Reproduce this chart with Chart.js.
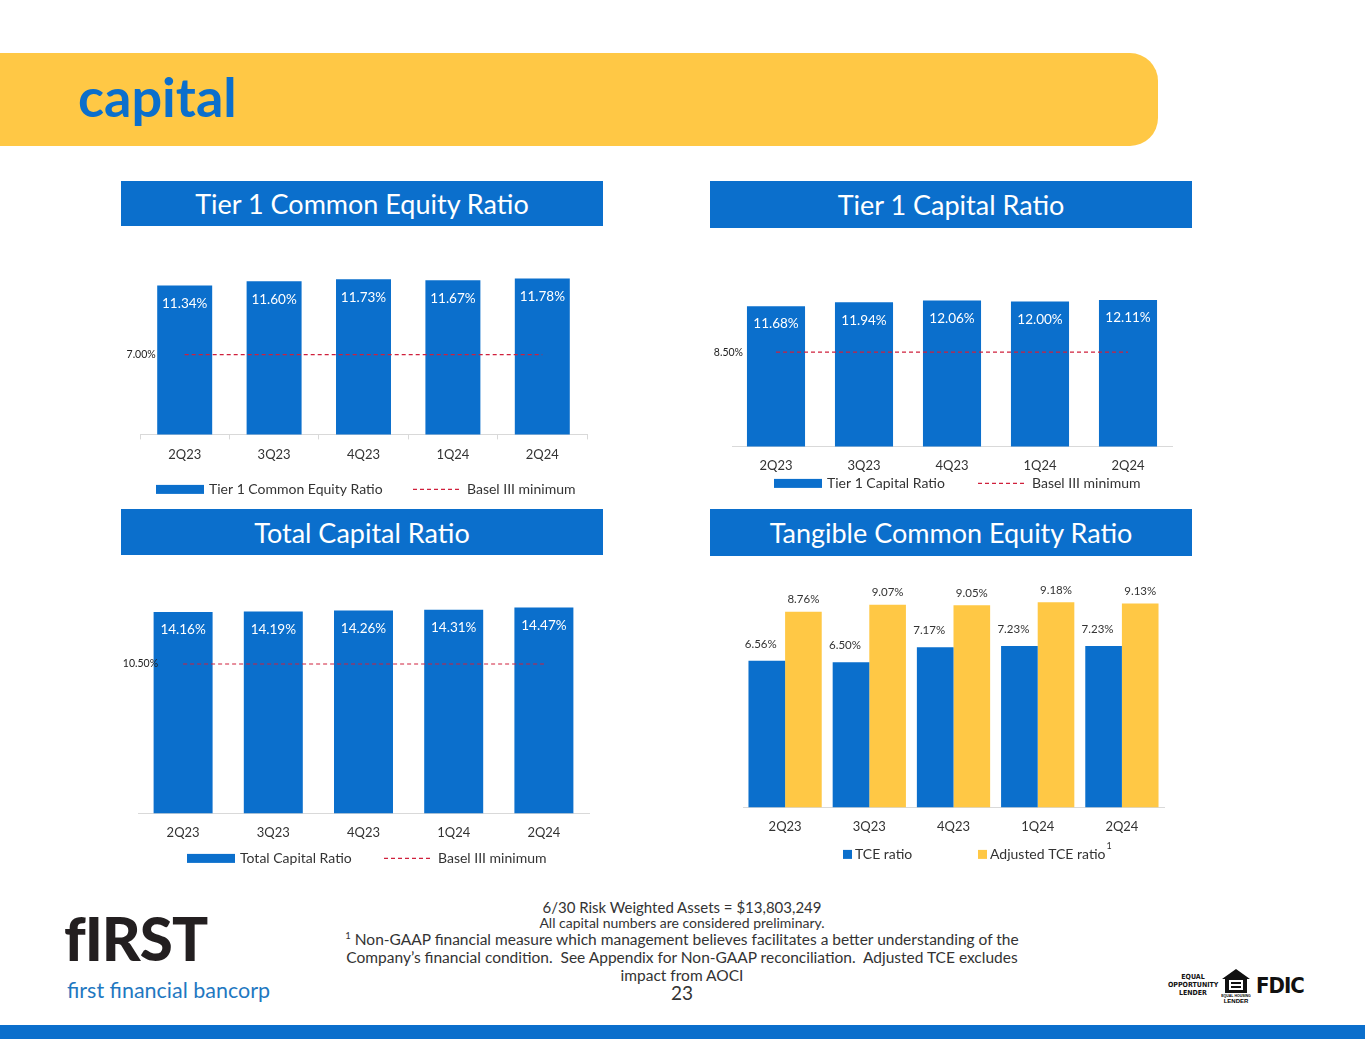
<!DOCTYPE html>
<html>
<head>
<meta charset="utf-8">
<title>capital</title>
<script src="https://cdn.jsdelivr.net/npm/chart.js@4.4.1/dist/chart.umd.min.js"></script>
<style>
  html, body { margin: 0; padding: 0; background: #fff; }
  body { width: 1365px; height: 1055px; position: relative; overflow: hidden; font-family: Lato, 'Open Sans', sans-serif; }
  .band { position: absolute; left: 0; top: 53px; width: 1158px; height: 93px; background: #FFC845; border-radius: 0 28px 28px 0; }
  .pageTitle { position: absolute; left: 78px; top: 70px; font: bold 54px/54px Lato, sans-serif; color: #0B6FCC; }
  .secTitle { position: absolute; width: 482px; background: #0B6FCC; color: #fff; font: 27px Lato, sans-serif;
              display: flex; align-items: center; justify-content: center; }
  .chartBox { position: absolute; }
  .notes { position: absolute; left: 282px; top: 900px; width: 800px; text-align: center; color: #333; }
  .notes div { white-space: nowrap; }
  .logo1 { position: absolute; left: 64px; top: 903px; font: 900 60px/70px Lato, sans-serif; color: #231F20; letter-spacing: -1px; }
  .logo2 { position: absolute; left: 67px; top: 976px; font: 21.5px/28px Lato, sans-serif; color: #1F78C1; }
  .eol { position: absolute; left: 1168px; top: 973px; width: 50px; text-align: center; font: bold 7px/8px 'Liberation Sans Narrow', 'DejaVu Sans Condensed', sans-serif; color: #111; }
  .fdic { position: absolute; left: 1256px; top: 972px; font: bold 22px/28px 'Liberation Sans Narrow', 'DejaVu Sans Condensed', sans-serif; color: #111; letter-spacing: -1px; }
  .ehl { position: absolute; left: 1221px; top: 968px; }
  .bottomBand { position: absolute; left: 0; top: 1025px; width: 1365px; height: 14px; background: #0B6FCC; }
</style>
</head>
<body>
<div class="band"></div>
<div class="pageTitle">capital</div>

<div class="secTitle" style="left:121px; top:181px; height:45px;">Tier 1 Common Equity Ratio</div>
<div class="secTitle" style="left:710px; top:181px; height:47px;">Tier 1 Capital Ratio</div>
<div class="secTitle" style="left:121px; top:509px; height:46px;">Total Capital Ratio</div>
<div class="secTitle" style="left:710px; top:509px; height:47px;">Tangible Common Equity Ratio</div>

<div class="chartBox" style="left:100px; top:249px;"><canvas id="cet1" width="527" height="264"></canvas></div>
<div class="chartBox" style="left:700px; top:277px;"><canvas id="tier1" width="504" height="237"></canvas></div>
<div class="chartBox" style="left:98px; top:590px;"><canvas id="total" width="531" height="301"></canvas></div>
<div class="chartBox" style="left:711px; top:574px;"><canvas id="tce" width="485" height="311"></canvas></div>

<div class="notes">
  <div style="font-size:15px; line-height:15px;">6/30 Risk Weighted Assets = $13,803,249</div>
  <div style="font-size:14px; line-height:15px;">All capital numbers are considered preliminary.</div>
  <div style="font-size:15.5px; line-height:18px;"><sup style="font-size:9.5px; line-height:0;">1</sup> Non-GAAP financial measure which management believes facilitates a better understanding of the</div>
  <div style="font-size:15.5px; line-height:18px;">Company’s financial condition.&nbsp; See Appendix for Non-GAAP reconciliation.&nbsp; Adjusted TCE excludes</div>
  <div style="font-size:15.5px; line-height:18px;">impact from AOCI</div>
  <div style="font-size:19px; line-height:18px;">23</div>
</div>

<div class="logo1">fIRST</div>
<div class="logo2">first financial bancorp</div>

<div class="eol">EQUAL<br>OPPORTUNITY<br>LENDER</div>
<svg class="ehl" width="30" height="36" viewBox="0 0 30 36">
  <path d="M15 1 L29 11 L26 11 L26 25 L4 25 L4 11 L1 11 Z" fill="#111"/>
  <rect x="8" y="12" width="14" height="10" fill="#fff"/>
  <rect x="10" y="14" width="10" height="2" fill="#111"/>
  <rect x="10" y="18" width="10" height="2" fill="#111"/>
  <text x="15" y="29" font-size="3.5" text-anchor="middle" font-family="Liberation Sans Narrow, sans-serif" font-weight="bold">EQUAL HOUSING</text>
  <text x="15" y="35" font-size="6" text-anchor="middle" font-family="Liberation Sans Narrow, sans-serif" font-weight="bold">LENDER</text>
</svg>
<div class="fdic">FDIC</div>

<div class="bottomBand"></div>

<script>
// quarters shown on every chart
const quarters = ['2Q23', '3Q23', '4Q23', '1Q24', '2Q24'];

// ratios in percent
const tier1CommonEquity = [11.34, 11.60, 11.73, 11.67, 11.78];
const tier1CommonMinimum = [7.00, 7.00, 7.00, 7.00, 7.00];

const tier1Capital = [11.68, 11.94, 12.06, 12.00, 12.11];
const tier1CapitalMinimum = [8.50, 8.50, 8.50, 8.50, 8.50];

const totalCapital = [14.16, 14.19, 14.26, 14.31, 14.47];
const totalCapitalMinimum = [10.50, 10.50, 10.50, 10.50, 10.50];

const tceRatio = [6.56, 6.50, 7.17, 7.23, 7.23];
const adjustedTceRatio = [8.76, 9.07, 9.05, 9.18, 9.13];

const BLUE = '#0B6FCC';
const YELLOW = '#FFC845';
const RED = '#D0203C';

Chart.defaults.font.family = 'Lato';
Chart.defaults.color = '#333';

// value labels on the bars + the label at the left end of the minimum line
const valueLabels = {
  id: 'valueLabels',
  afterDatasetsDraw(chart, args, opts) {
    const ctx = chart.ctx;
    ctx.save();
    ctx.textBaseline = 'middle';
    chart.data.datasets.forEach((ds, i) => {
      const meta = chart.getDatasetMeta(i);
      if (ds.type === 'line') {
        const p = meta.data[0];
        ctx.font = '10.5px Lato';
        ctx.fillStyle = '#222';
        ctx.textAlign = 'right';
        ctx.fillText(ds.data[0].toFixed(2) + '%', p.x - opts.lineGap, p.y);
        return;
      }
      const off = opts.offsets[i];
      ctx.font = opts.font;
      ctx.fillStyle = opts.color;
      ctx.textAlign = 'center';
      meta.data.forEach((bar, j) => {
        ctx.fillText(ds.data[j].toFixed(2) + '%', bar.x + off.dx, bar.y + off.dy);
      });
    });
    ctx.restore();
  }
};

// legend row under the axis, one entry per dataset
const legendRow = {
  id: 'legendRow',
  afterDraw(chart, args, opts) {
    const { ctx, chartArea } = chart;
    const y = chartArea.bottom + opts.dy;
    ctx.save();
    ctx.font = '14px Lato';
    ctx.textBaseline = 'middle';
    ctx.textAlign = 'left';
    chart.data.datasets.forEach((ds, i) => {
      const it = opts.items[i];
      const x = chartArea.left + it.x;
      if (ds.type === 'line') {
        ctx.strokeStyle = ds.borderColor;
        ctx.lineWidth = ds.borderWidth;
        ctx.setLineDash(ds.borderDash);
        ctx.beginPath();
        ctx.moveTo(x, y);
        ctx.lineTo(x + it.w, y);
        ctx.stroke();
        ctx.setLineDash([]);
      } else {
        ctx.fillStyle = ds.backgroundColor;
        ctx.fillRect(x, y - it.h / 2, it.w, it.h);
      }
      ctx.fillStyle = '#333';
      const tx = x + it.w + opts.gap;
      ctx.fillText(ds.label, tx, y);
      if (it.sup) {
        const tw = ctx.measureText(ds.label).width;
        ctx.font = '9px Lato';
        ctx.fillText(it.sup, tx + tw + 1, y - 8);
        ctx.font = '14px Lato';
      }
    });
    ctx.restore();
  }
};

function xScale(withTicks, tickPad) {
  return {
    offset: true,
    grid: { display: withTicks, drawOnChartArea: false, drawTicks: withTicks, tickLength: 5, color: '#D9D9D9', offset: true },
    border: { display: true, color: '#D9D9D9', width: 1 },
    ticks: { color: '#333', font: { size: 13 }, padding: tickPad }
  };
}

function ratioChart(id, cfg) {
  return new Chart(document.getElementById(id), {
    type: 'bar',
    data: {
      labels: quarters,
      datasets: [
        {
          type: 'bar',
          label: cfg.barLabel,
          data: cfg.values,
          backgroundColor: BLUE,
          borderWidth: 0,
          categoryPercentage: 1,
          barPercentage: cfg.barPct,
          order: 1
        },
        {
          type: 'line',
          label: 'Basel III minimum',
          data: cfg.minimum,
          borderColor: RED,
          borderWidth: 1.2,
          borderDash: [4, 3],
          pointRadius: 0,
          fill: false,
          order: 0
        }
      ]
    },
    options: {
      responsive: false,
      animation: false,
      layout: { padding: cfg.padding },
      scales: {
        x: xScale(cfg.ticks, cfg.tickPad),
        y: { display: false, min: cfg.min, max: cfg.max }
      },
      plugins: {
        legend: { display: false },
        tooltip: { enabled: false },
        valueLabels: { font: '13.5px Lato', color: '#fff', offsets: [{ dx: 0, dy: 18 }], lineGap: cfg.lineGap },
        legendRow: { dy: cfg.legendDy, gap: 5, items: [{ x: cfg.legendX[0], w: 48, h: 9 }, { x: cfg.legendX[1], w: 49 }] }
      }
    },
    plugins: [valueLabels, legendRow]
  });
}

ratioChart('cet1', {
  barLabel: 'Tier 1 Common Equity Ratio', values: tier1CommonEquity, minimum: tier1CommonMinimum,
  min: 2, max: 13, barPct: 0.615, ticks: true, tickPad: 8, lineGap: 29,
  padding: { left: 40, right: 40, top: 10, bottom: 42 }, legendDy: 55, legendX: [16, 273]
});

ratioChart('tier1', {
  barLabel: 'Tier 1 Capital Ratio', values: tier1Capital, minimum: tier1CapitalMinimum,
  min: 2, max: 13, barPct: 0.66, ticks: false, tickPad: 12, lineGap: 33,
  padding: { left: 32, right: 32, top: 10, bottom: 28 }, legendDy: 37, legendX: [42, 246]
});

ratioChart('total', {
  barLabel: 'Total Capital Ratio', values: totalCapital, minimum: totalCapitalMinimum,
  min: 0, max: 15, barPct: 0.654, ticks: false, tickPad: 12, lineGap: 25,
  padding: { left: 40, right: 40, top: 10, bottom: 38 }, legendDy: 45, legendX: [49, 246]
});

new Chart(document.getElementById('tce'), {
  type: 'bar',
  data: {
    labels: quarters,
    datasets: [
      { label: 'TCE ratio', data: tceRatio, backgroundColor: BLUE, borderWidth: 0, categoryPercentage: 0.87, barPercentage: 1 },
      { label: 'Adjusted TCE ratio', data: adjustedTceRatio, backgroundColor: YELLOW, borderWidth: 0, categoryPercentage: 0.87, barPercentage: 1 }
    ]
  },
  options: {
    responsive: false,
    animation: false,
    layout: { padding: { left: 32, right: 32, top: 10, bottom: 38 } },
    scales: {
      x: xScale(false, 12),
      y: { display: false, min: 0, max: 10 }
    },
    plugins: {
      legend: { display: false },
      tooltip: { enabled: false },
      valueLabels: { font: '11.5px Lato', color: '#333', offsets: [{ dx: -6, dy: -17 }, { dx: 0, dy: -12 }], lineGap: 0 },
      legendRow: { dy: 47, gap: 3, items: [{ x: 100, w: 9, h: 9 }, { x: 235, w: 9, h: 9, sup: '1' }] }
    }
  },
  plugins: [valueLabels, legendRow]
});
</script>
</body>
</html>
